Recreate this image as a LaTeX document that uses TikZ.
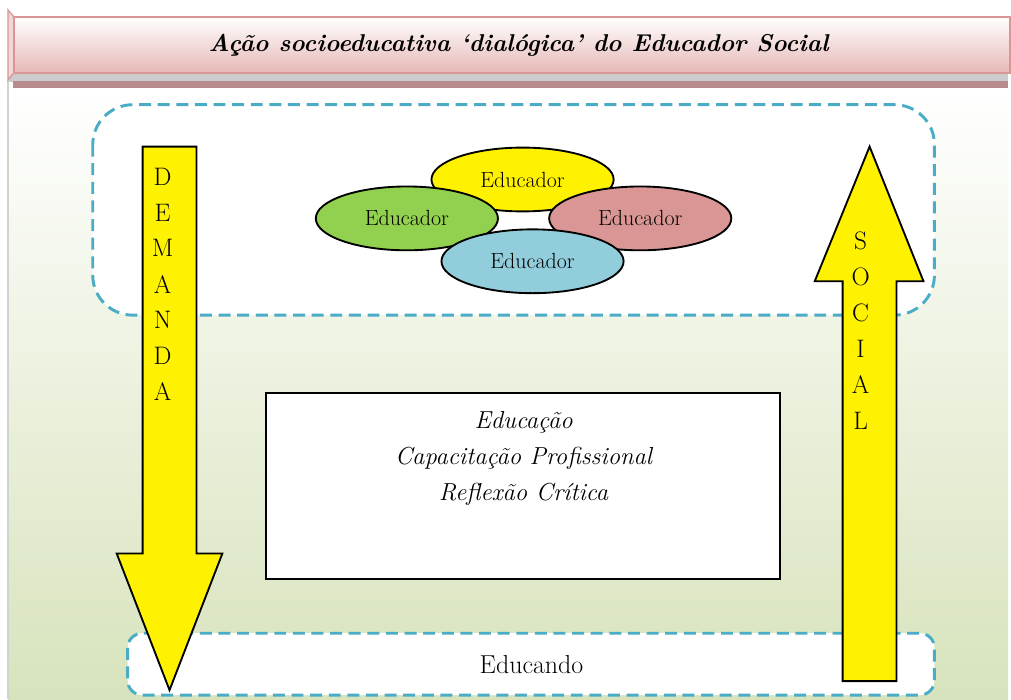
\documentclass[tikz,border=0pt]{standalone}
\usepackage{tikz}
\usetikzlibrary{shapes.geometric}

\definecolor{dashblue}{RGB}{75,172,198}
\definecolor{edgreen}{RGB}{146,208,80}
\definecolor{edrose}{RGB}{217,150,148}
\definecolor{edblue}{RGB}{146,205,220}
\definecolor{bggreen}{RGB}{215,227,188}
\definecolor{bannerpink}{RGB}{230,184,183}
\definecolor{bannerline}{RGB}{217,150,148}
\definecolor{bandgray}{RGB}{204,204,204}
\definecolor{banddark}{RGB}{184,140,140}

\tikzset{
  dashbox/.style={draw=dashblue, fill=white, line width=2.2pt, dash pattern=on 9pt off 5pt},
  educ/.style={ellipse, draw=black, line width=1.4pt, minimum width=137pt, minimum height=48pt, inner sep=0pt, font=\fontsize{16.5}{18}\selectfont},
  bigarrow/.style={draw=black, fill=yellow, line width=1.4pt, line join=miter},
  letter/.style={font=\fontsize{19}{20}\selectfont}
}

\begin{document}
\begin{tikzpicture}[x=0.75pt,y=0.75pt,yscale=-1,xscale=1]
\path (0,0) rectangle (1011,701);

%Background
\shade [top color=white, bottom color=bggreen] (8,90) rectangle (1011,701);
\draw [color=black!18, line width=0.8pt] (8,80) -- (8,701);

%Banner
\fill [bandgray] (8,72) rectangle (1011,82);
\fill [banddark] (13,81) rectangle (1011,88);
\draw [bannerline, fill=bannerpink!55, line width=1pt] (8,10) -- (14,17) -- (14,73) -- (8,80) -- cycle;
\shade [top color=white, bottom color=bannerpink, draw=bannerline, line width=1.2pt] (14,17) rectangle (1013,73);
\draw [bannerline, line width=1pt] (14,73) -- (1011,73);

% Text Node
\node (title) at (520,45) {\fontsize{18.3}{20}\selectfont\bfseries\itshape Ação socioeducativa ‘dialógica’ do Educador Social};

%Dashed boxes
\draw [dashbox, rounded corners=30] (93,105) rectangle (937,316);
\draw [dashbox, rounded corners=11] (128,635) rectangle (937,697);

% Text Node
\node (educando) at (533,666) {\fontsize{19.5}{21}\selectfont Educando};

%Educadores
\node [educ, fill=yellow] (ed1) at (524,180) {Educador};
\node [educ, fill=edgreen] (ed2) at (408,219) {Educador};
\node [educ, fill=edrose] (ed3) at (642,219) {Educador};
\node [educ, fill=edblue] (ed4) at (534,262) {Educador};

%Centre box
\node [draw=black, fill=white, line width=1.4pt, minimum width=387pt, minimum height=140pt] (centro) at (524.5,487) {};
\node [align=center, font=\fontsize{18.5}{27}\selectfont\itshape] (temas) at (525,460) {Educação\\Capacitação Profissional\\Reflexão Crítica};

%Arrows
\draw [bigarrow] (143,147) -- (197,147) -- (197,555) -- (223,555) -- (170,692) -- (117,555) -- (143,555) -- cycle;
\draw [bigarrow] (872,147) -- (926,282) -- (899,282) -- (899,683) -- (845,683) -- (845,282) -- (817,282) -- cycle;

\foreach \l [count=\i] in {D,E,M,A,N,D,A}
  \node [letter] (dem\i) at (163,141+36*\i) {\l};
\foreach \l [count=\i] in {S,O,C,I,A,L}
  \node [letter] (soc\i) at (863,206+36*\i) {\l};

\end{tikzpicture}
\end{document}
